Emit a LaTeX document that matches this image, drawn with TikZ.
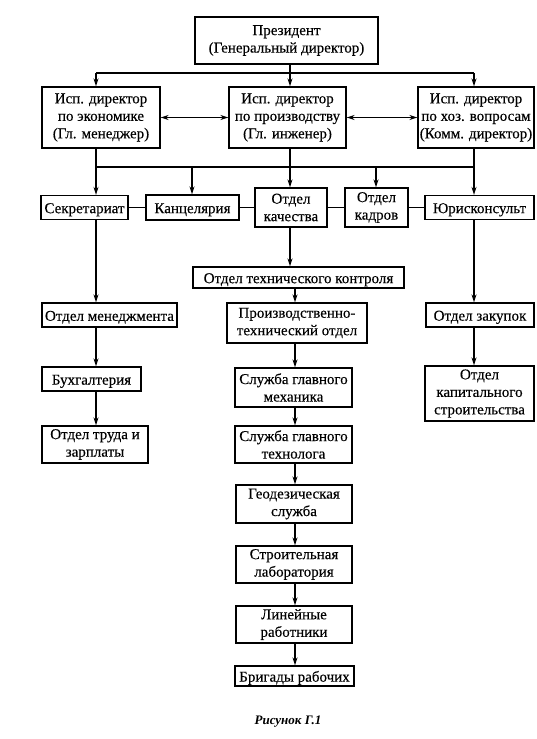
\documentclass[tikz,border=0pt]{standalone}
\usepackage{fontspec}
\setmainfont{Liberation Serif}
\newfontfamily\boxfont{Liberation Serif}[FakeBold=0.3]
\usetikzlibrary{arrows.meta,calc}
\begin{document}
\begin{tikzpicture}[x=1pt,y=-1pt,
  box/.style={draw,line width=1.3pt,align=center,inner sep=0pt,
    font=\boxfont\fontsize{15}{17.5}\selectfont,
    execute at begin node={\rule{0pt}{14.5pt}}},
  ln/.style={line width=1.3pt},
  arr/.style={line width=1.3pt,-{Stealth[length=8pt,width=5pt]}},
  darr/.style={line width=1.3pt,{Stealth[length=8pt,width=5pt]}-{Stealth[length=8pt,width=5pt]}}]
\useasboundingbox (0,0) rectangle (537,739);
% top level
\node[box,minimum width=183,minimum height=47] (pres) at (286.5,40.5) {Президент\\(Генеральный директор)};
\node[box,minimum width=118,minimum height=61] (econ) at (101,117.5) {Исп. директор\\по экономике\\(Гл. менеджер)};
\node[box,minimum width=117,minimum height=61] (prod) at (287.5,117.5) {Исп. директор\\по производству\\(Гл. инженер)};
\node[box,minimum width=116,minimum height=61] (hoz) at (476,117.5) {Исп. директор\\по хоз. вопросам\\(Комм. директор)};
% second row
\node[box,minimum width=87,minimum height=24] (sekr) at (84.5,207.5) {Секретариат};
\node[box,minimum width=93,minimum height=25] (kanc) at (192.5,207.5) {Канцелярия};
\node[box,minimum width=72,minimum height=39] (kach) at (291,207.5) {Отдел\\качества};
\node[box,minimum width=63,minimum height=39] (kadr) at (376.5,207.5) {Отдел\\кадров};
\node[box,minimum width=109,minimum height=24] (yur) at (479.5,207.5) {Юрисконсульт};
% middle column
\node[box,minimum width=211,minimum height=21] (otk) at (298.5,277.5) {Отдел технического контроля};
\node[box,minimum width=140,minimum height=40] (pto) at (297,323) {Производственно-\\технический отдел};
\node[box,minimum width=117,minimum height=39] (meh) at (293.5,387.5) {Служба главного\\механика};
\node[box,minimum width=117,minimum height=37] (tehn) at (293.5,444.5) {Служба главного\\технолога};
\node[box,minimum width=116,minimum height=38] (geo) at (294,504) {Геодезическая\\служба};
\node[box,minimum width=116,minimum height=37] (stroi) at (294,564.5) {Строительная\\лаборатория};
\node[box,minimum width=116,minimum height=37] (lin) at (294,624.5) {Линейные\\работники};
\node[box,minimum width=119,minimum height=20] (brig) at (294.5,676) {Бригады рабочих};
% left column
\node[box,minimum width=135,minimum height=24] (men) at (109.5,315) {Отдел менеджмента};
\node[box,minimum width=99,minimum height=24] (buh) at (91.5,379) {Бухгалтерия};
\node[box,minimum width=106,minimum height=37] (trud) at (95,444.5) {Отдел труда и\\зарплаты};
% right column
\node[box,minimum width=108,minimum height=24] (zak) at (480,315) {Отдел закупок};
\node[box,minimum width=109,minimum height=55] (kap) at (479.5,393.5) {Отдел\\капитального\\строительства};
% caption
\node[font=\fontsize{13}{15}\selectfont\bfseries\itshape] (cap) at (288,722) {Рисунок Г.1};
% column coordinates
\coordinate (cL) at (96,0);
\coordinate (cK) at (192,0);
\coordinate (cM) at (290,0);
\coordinate (cD) at (376,0);
\coordinate (cR) at (474,0);
\coordinate (cC) at (295,0);
\coordinate (bus1) at (0,73);
\coordinate (bus2) at (0,167);
% top bus
\draw[ln] (pres.south -| cM) -- (cM |- bus1);
\draw[ln] (cL |- bus1) -- (cR |- bus1);
\draw[arr] (cL |- bus1) -- (cL |- econ.north);
\draw[arr] (cM |- bus1) -- (cM |- prod.north);
\draw[arr] (cR |- bus1) -- (cR |- hoz.north);
% double arrows
\draw[darr] (econ.east) -- (prod.west);
\draw[darr] (prod.east) -- (hoz.west);
% lower bus
\draw[ln] (cL |- bus2) -- (cR |- bus2);
\draw[arr] (econ.south -| cL) -- (cL |- sekr.north);
\draw[arr] (prod.south -| cM) -- (cM |- kach.north);
\draw[arr] (hoz.south -| cR) -- (cR |- yur.north);
\draw[arr] (cK |- bus2) -- (cK |- kanc.north);
\draw[arr] (cD |- bus2) -- (cD |- kadr.north);
% row connectors
\draw[ln] (sekr.east) -- (kanc.west);
\draw[ln] (kanc.east) -- (kach.west);
\draw[ln] (kach.east) -- (kadr.west);
\draw[ln] (kadr.east) -- (yur.west);
% middle chain
\draw[arr] (kach.south -| cM) -- (cM |- otk.north);
\draw[arr] (otk.south -| cC) -- (cC |- pto.north);
\draw[arr] (pto.south -| cC) -- (cC |- meh.north);
\draw[arr] (meh.south -| cC) -- (cC |- tehn.north);
\draw[arr] (tehn.south -| cC) -- (cC |- geo.north);
\draw[arr] (geo.south -| cC) -- (cC |- stroi.north);
\draw[arr] (stroi.south -| cC) -- (cC |- lin.north);
\draw[arr] (lin.south -| cC) -- (cC |- brig.north);
% left chain
\draw[arr] (sekr.south -| cL) -- (cL |- men.north);
\draw[arr] (men.south -| cL) -- (cL |- buh.north);
\draw[arr] (buh.south -| cL) -- (cL |- trud.north);
% right chain
\draw[arr] (yur.south -| cR) -- (cR |- zak.north);
\draw[arr] (zak.south -| cR) -- (cR |- kap.north);
\end{tikzpicture}
\end{document}
